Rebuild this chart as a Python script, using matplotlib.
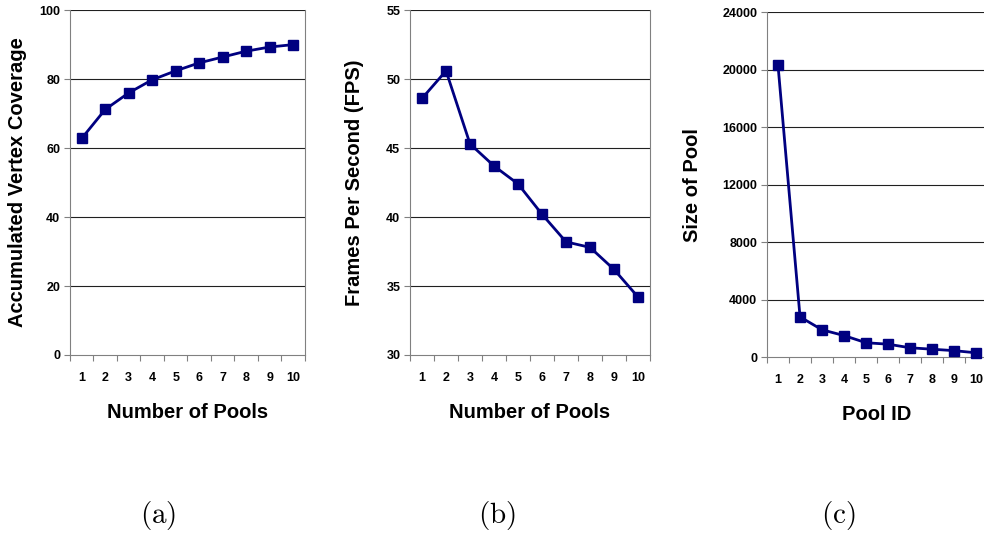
import numpy as np
import matplotlib.pyplot as plt

plt.rcParams['font.family'] = ['Liberation Sans', 'DejaVu Sans']
plt.rcParams['mathtext.fontset'] = 'cm'

pools = [1, 2, 3, 4, 5, 6, 7, 8, 9, 10]
coverage = [62.8, 71.2, 76.0, 79.8, 82.4, 84.7, 86.4, 88.1, 89.3, 90.0]
fps = [48.6, 50.6, 45.3, 43.7, 42.4, 40.2, 38.2, 37.8, 36.2, 34.2]
pool_size = [20300, 2800, 1900, 1500, 1000, 900, 650, 550, 450, 300]

fig = plt.figure(figsize=(9.84, 5.33), dpi=100)

panels = [
    # rect, data, yticks, ylabel, xlabel, caption x, ylabel x
    ([0.0711, 0.334, 0.2388, 0.647], coverage, [0, 20, 40, 60, 80, 100],
     'Accumulated Vertex Coverage', 'Number of Pools', 158, '(a)', 18),
    ([0.4167, 0.334, 0.2439, 0.647], fps, [30, 35, 40, 45, 50, 55],
     'Frames Per Second (FPS)', 'Number of Pools', 497, '(b)', 354),
    ([0.7795, 0.330, 0.2236, 0.647], pool_size, [0, 4000, 8000, 12000, 16000, 20000, 24000],
     'Size of Pool', 'Pool ID', 838, '(c)', 693),
]

for rect, vals, yt, ylab, xlab, cx, cap, ly in panels:
    ax = fig.add_axes(rect)
    ax.set_xlim(0.5, 10.5)
    ax.set_ylim(yt[0], yt[-1])
    ax.set_yticks(yt)
    ax.set_yticklabels([str(v) for v in yt], fontsize=9, fontweight='bold')
    # category axis: tick marks between categories, labels at centers
    ax.set_xticks(np.arange(0.5, 11, 1))
    ax.set_xticklabels([])
    ax.set_xticks(pools, minor=True)
    ax.set_xticklabels([str(p) for p in pools], minor=True, fontsize=9, fontweight='bold')
    ax.tick_params(axis='x', which='major', direction='out', length=4, color='#808080')
    ax.tick_params(axis='x', which='minor', length=0, pad=12)
    ax.tick_params(axis='y', direction='out', length=4, color='#808080', pad=3)
    for g in yt[1:]:
        ax.axhline(g, color='#202020', lw=0.8, zorder=1)
    for s in ['left', 'bottom', 'right']:
        ax.spines[s].set_color('#808080')
    ax.spines['top'].set_visible(False)
    ax.plot(pools, vals, color='#000080', lw=2, marker='s', markersize=6.5,
            zorder=3, clip_on=False)
    ax.set_xlabel(xlab, fontsize=14.5, fontweight='bold', labelpad=14)
    fig.text(ly / 984, rect[1] + rect[3] / 2, ylab, fontsize=14.5, fontweight='bold',
             rotation=90, ha='center', va='center')
    fig.text(cx / 984, 1 - 516 / 533, r'$\mathrm{' + cap + '}$', fontsize=21,
             ha='center', va='center')

fig.savefig('out.png', dpi=100)
